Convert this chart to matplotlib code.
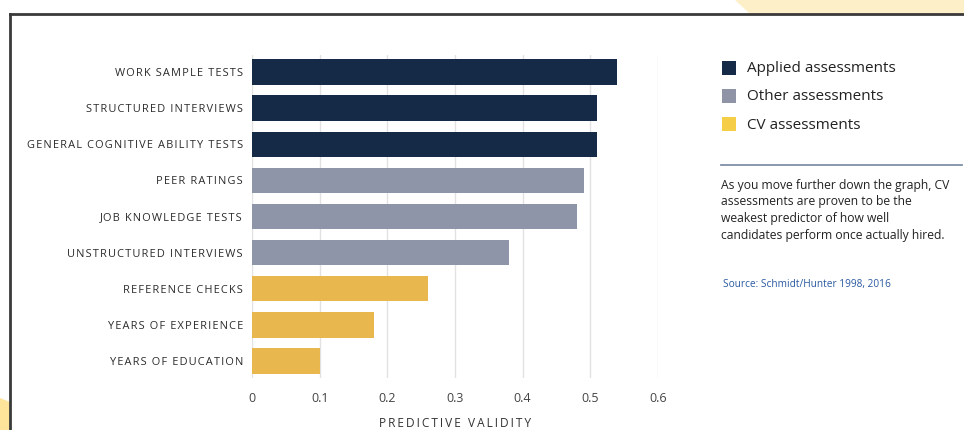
import matplotlib.pyplot as plt
from matplotlib.patches import Polygon, Rectangle
from matplotlib.lines import Line2D

plt.rcParams['font.family'] = ['Open Sans', 'DejaVu Sans']

CATEGORIES = [
    'WORK SAMPLE TESTS',
    'STRUCTURED INTERVIEWS',
    'GENERAL COGNITIVE ABILITY TESTS',
    'PEER RATINGS',
    'JOB KNOWLEDGE TESTS',
    'UNSTRUCTURED INTERVIEWS',
    'REFERENCE CHECKS',
    'YEARS OF EXPERIENCE',
    'YEARS OF EDUCATION',
]
VALIDITY = [0.54, 0.51, 0.51, 0.49, 0.48, 0.38, 0.26, 0.18, 0.10]
GROUPS = ['applied', 'applied', 'applied', 'other', 'other', 'other', 'cv', 'cv', 'cv']
X_TICKS = [0, 0.1, 0.2, 0.3, 0.4, 0.5, 0.6]
X_TICK_LABELS = ['0', '0.1', '0.2', '0.3', '0.4', '0.5', '0.6']

BAR_COLORS = {'applied': '#142a47', 'other': '#8f95a8', 'cv': '#e8b84f'}
LEGEND_ITEMS = [
    ('Applied assessments', '#142a47'),
    ('Other assessments', '#8e94a6'),
    ('CV assessments', '#f5cd47'),
]
NOTE = ('As you move further down the graph, CV\n'
        'assessments are proven to be the\n'
        'weakest predictor of how well\n'
        'candidates perform once actually hired.')
SOURCE = 'Source: Schmidt/Hunter 1998, 2016'

W, H = 964, 430
fig = plt.figure(figsize=(W / 100, H / 100), dpi=100)


def fx(px):
    return px / W


def fy(py):
    return 1 - py / H


def spaced(s):
    # mimic the letter spacing of the original labels
    return '\u200a'.join(s)


# decorative background shapes and frame
fig.patches.append(Polygon([(fx(735), fy(0)), (fx(W), fy(0)), (fx(W), fy(14)), (fx(750), fy(14))],
                           closed=True, transform=fig.transFigure, facecolor='#fdefc8',
                           edgecolor='none', zorder=0))
fig.patches.append(Polygon([(fx(0), fy(398)), (fx(10), fy(402)), (fx(10), fy(H)), (fx(0), fy(H))],
                           closed=True, transform=fig.transFigure, facecolor='#fde49a',
                           edgecolor='none', zorder=0))
fig.add_artist(Line2D([fx(10), fx(W)], [fy(14), fy(14)], color='#3a3a3a', lw=2))
fig.add_artist(Line2D([fx(10), fx(10)], [fy(14), fy(H)], color='#3a3a3a', lw=2))

ax = fig.add_axes([fx(252), fy(378), fx(658) - fx(252), fy(55) - fy(378)])
y = list(range(len(CATEGORIES)))
ax.barh(y, VALIDITY, height=0.7, color=[BAR_COLORS[g] for g in GROUPS], zorder=3)
ax.set_xlim(0, 0.6)
ax.set_ylim(len(CATEGORIES) - 0.53, -0.47)
ax.set_yticks(y)
ax.set_yticklabels([spaced(c) for c in CATEGORIES], fontsize=7.95, color='#2b2b2b')
ax.set_xticks(X_TICKS)
ax.set_xticklabels(X_TICK_LABELS, fontsize=9, color='#444444')
ax.tick_params(axis='y', length=0, pad=6.5)
ax.tick_params(axis='x', length=0, pad=10)
ax.grid(axis='x', color='#e2e2e2', lw=1, zorder=0)
for s in ax.spines.values():
    s.set_visible(False)
ax.set_xlabel('\u2009'.join('PREDICTIVE VALIDITY'), fontsize=8.6, color='#333333', labelpad=9)

# legend
for i, (label, color) in enumerate(LEGEND_ITEMS):
    yc = 69 + i * 28
    fig.patches.append(Rectangle((fx(722), fy(yc + 6)), fx(14), fy(0) - fy(14),
                                 transform=fig.transFigure, facecolor=color, edgecolor='none'))
    fig.text(fx(747), fy(yc), label, fontsize=11, color='#222222', va='center', ha='left')

fig.add_artist(Line2D([fx(721), fx(962)], [fy(165), fy(165)], color='#8090a8', lw=1.3))
fig.text(fx(721), fy(179), NOTE, fontsize=8.7, color='#222222', va='top', ha='left', linespacing=1.35)
fig.text(fx(723), fy(285), SOURCE, fontsize=7.3, color='#2a5aa0', va='center', ha='left')

fig.savefig('out.png', dpi=100)
